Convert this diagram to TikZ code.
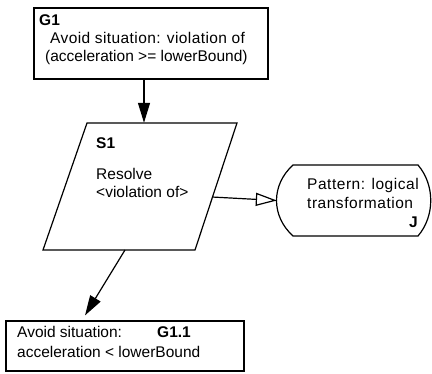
\documentclass[tikz,border=0pt]{standalone}
\usepackage{fontspec}
\setmainfont{Liberation Sans}
\newfontfamily\wideA[LetterSpace=2.6]{Liberation Sans}
\newfontfamily\wideB[LetterSpace=3.4]{Liberation Sans}
\usetikzlibrary{arrows.meta}
\tikzset{
  txt/.style={anchor=base west,inner sep=0pt,font=\fontsize{15.5}{18.5}\selectfont},
  btxt/.style={txt,font=\fontsize{15.5}{18.5}\selectfont\bfseries},
  box/.style={draw,line width=1.2pt,inner sep=0pt},
  outline/.style={line width=1.2pt,line join=miter},
  conn/.style={line width=1.2pt},
  filledtip/.style={-{Triangle[length=20pt,width=12pt]}},
  opentip/.style={-{Triangle[open,length=21pt,width=13pt,line width=1.2pt]}}
}
\begin{document}
\begin{tikzpicture}[x=1pt,y=-1pt]
\useasboundingbox (0,0) rectangle (432,373);
% G1
\node[box,rectangle,minimum width=234pt,minimum height=71pt] (G1) at (151,43.5) {};
\node[btxt] (g1id) at (39,25) {G1};
\node[txt,font=\fontsize{15.5}{18.5}\wideA] (g1a) at (50,43) {Avoid situation: violation of};
\node[txt] (g1b) at (45,61) {(acceleration >= lowerBound)};
% S1 (parallelogram)
\node[rectangle,minimum width=194pt,minimum height=127pt,inner sep=0pt] (S1) at (140,186.5) {};
\draw[outline] (87,123) -- (237,123) -- (195,250) -- (43,250) -- cycle;
\coordinate (S1r) at (212,197);
\coordinate (S1b) at (125,250);
\node[btxt] (s1id) at (96,148) {S1};
\node[txt] (s1a) at (96,179) {Resolve};
\node[txt] (s1b) at (96,197) {<violation of>};
% Pattern
\node[rectangle,minimum width=154pt,minimum height=71pt,inner sep=0pt] (P) at (354,200.5) {};
\draw[outline] (293,165) -- (418,165) .. controls (435,185) and (435,216) .. (418,236)
  -- (293,236) .. controls (271,216) and (271,185) .. (293,165) -- cycle;
\node[txt,font=\fontsize{15.5}{18.5}\wideB] (pa) at (307,189) {Pattern: logical};
\node[txt,font=\fontsize{15.5}{18.5}\wideB] (pb) at (307,208) {transformation};
\node[btxt,anchor=base east] (pj) at (418,227) {J};
% G1.1
\node[box,rectangle,minimum width=238pt,minimum height=50pt] (G11) at (125,346) {};
\node[txt] (g11a) at (17,337) {Avoid situation:};
\node[btxt] (g11id) at (157,337) {G1.1};
\node[txt] (g11b) at (17,357) {acceleration < lowerBound};
% connectors
\coordinate (ax) at (144,0);
\draw[conn,filledtip] (G1.south -| ax) -- (S1.north -| ax);
\draw[conn,opentip] (S1r) -- (P.west);
\draw[conn,filledtip] (S1b) -- ([xshift=-40pt,yshift=5pt]G11.north);
\end{tikzpicture}
\end{document}
